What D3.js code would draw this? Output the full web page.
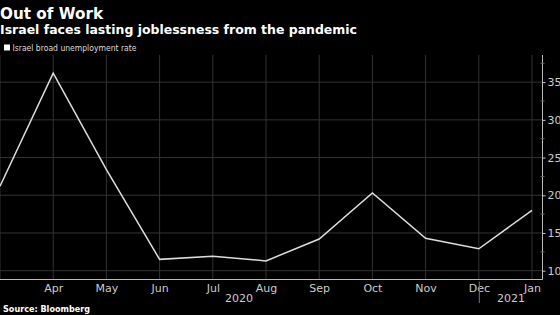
<!DOCTYPE html>
<html><head><meta charset="utf-8">
<script src="https://cdn.jsdelivr.net/npm/d3@7"></script>
<style>
html,body{margin:0;padding:0;background:#000;}
svg{display:block;}
</style></head>
<body>
<svg id="c" width="560" height="315"></svg>
<script>
const months = ["Mar","Apr","May","Jun","Jul","Aug","Sep","Oct","Nov","Dec","Jan"];
const monthLabels = ["","Apr","May","Jun","Jul","Aug","Sep","Oct","Nov","Dec","Jan"];
const unemployment = [21.2, 36.2, 23.4, 11.5, 11.9, 11.3, 14.2, 20.3, 14.3, 12.9, 18.0];
const yTicks = [10, 15, 20, 25, 30, 35];
const yMinorTicks = [10, 12.5, 15, 17.5, 20, 22.5, 25, 27.5, 30, 32.5, 35, 37.5];
const years = [{label:"2020", from:"Mar", to:"Dec"}, {label:"2021", from:"Dec", to:"Jan"}];

const svg = d3.select("#c");
const font = "'DejaVu Sans', sans-serif";
const plotLeft = 0, plotRight = 542.5, plotTop = 55, plotBottom = 279.5;

const x = d3.scalePoint().domain(months).range([0, 532]);
const y = d3.scaleLinear().domain([8.83, 38.6]).range([plotBottom, plotTop]);

// gridlines
const grid = svg.append("g");
grid.selectAll("line.h").data(yTicks).join("line")
  .attr("x1", plotLeft).attr("x2", plotRight)
  .attr("y1", d => y(d)).attr("y2", d => y(d))
  .attr("stroke", "#333").attr("stroke-width", 1);
grid.selectAll("line.v").data(months).join("line")
  .attr("x1", d => x(d)).attr("x2", d => x(d))
  .attr("y1", plotTop).attr("y2", plotBottom)
  .attr("stroke", "#333").attr("stroke-width", 1);

// right axis
const yAxis = d3.axisRight(y).tickValues(yTicks).tickSize(3).tickPadding(2);
const ya = svg.append("g").attr("transform", `translate(${plotRight},0)`).call(yAxis);
ya.select(".domain").attr("stroke", "#bbb").attr("d", `M0,${plotTop}V${plotBottom}`);
ya.selectAll(".tick line").attr("stroke", "#ccc");
ya.selectAll(".tick text").attr("fill", "#ccc").attr("font-family", font).attr("font-size", 11);
svg.append("g").selectAll("line").data(yMinorTicks.filter(v => !yTicks.includes(v))).join("line")
  .attr("x1", plotRight - 2).attr("x2", plotRight + 2)
  .attr("y1", d => y(d)).attr("y2", d => y(d))
  .attr("stroke", "#666");

// bottom axis
const xAxis = d3.axisBottom(x).tickSize(0).tickPadding(5).tickFormat((d, i) => monthLabels[i]);
const xa = svg.append("g").attr("transform", `translate(0,${plotBottom})`).call(xAxis);
xa.select(".domain").attr("stroke", "#bbb").attr("d", `M0,0H${plotRight}`);
xa.selectAll(".tick text").attr("fill", "#ccc").attr("font-family", font).attr("font-size", 11);

// year labels and separator
const sepX = x("Dec") + 0.5;
svg.append("line").attr("x1", sepX).attr("x2", sepX).attr("y1", plotBottom + 2).attr("y2", 303)
  .attr("stroke", "#777");
svg.append("text").attr("x", 239).attr("y", 302).attr("text-anchor", "middle")
  .attr("fill", "#ccc").attr("font-family", font).attr("font-size", 11).text(years[0].label);
svg.append("text").attr("x", (sepX + plotRight) / 2).attr("y", 302).attr("text-anchor", "middle")
  .attr("fill", "#ccc").attr("font-family", font).attr("font-size", 11).text(years[1].label);

// line
const line = d3.line().x((d, i) => x(months[i])).y(d => y(d));
svg.append("path").datum(unemployment).attr("d", line)
  .attr("fill", "none").attr("stroke", "#ddd").attr("stroke-width", 1.5);

// titles
svg.append("text").attr("x", 0).attr("y", 19).attr("fill", "#fff")
  .attr("font-family", font).attr("font-weight", "bold").attr("font-size", 16)
  .attr("textLength", 103).attr("lengthAdjust", "spacingAndGlyphs").text("Out of Work");
svg.append("text").attr("x", 0).attr("y", 34).attr("fill", "#fff")
  .attr("font-family", font).attr("font-weight", "bold").attr("font-size", 11.5)
  .attr("textLength", 357).attr("lengthAdjust", "spacingAndGlyphs")
  .text("Israel faces lasting joblessness from the pandemic");
svg.append("rect").attr("x", 4).attr("y", 44.5).attr("width", 6).attr("height", 6).attr("fill", "#fff");
svg.append("text").attr("x", 12.5).attr("y", 51).attr("fill", "#ddd")
  .attr("font-family", font).attr("font-size", 9.5)
  .attr("textLength", 124).attr("lengthAdjust", "spacingAndGlyphs")
  .text("Israel broad unemployment rate");
svg.append("text").attr("x", 3).attr("y", 312).attr("fill", "#fff")
  .attr("font-family", font).attr("font-weight", "bold").attr("font-size", 9.5)
  .attr("textLength", 87).attr("lengthAdjust", "spacingAndGlyphs")
  .text("Source: Bloomberg");
</script>
</body></html>
